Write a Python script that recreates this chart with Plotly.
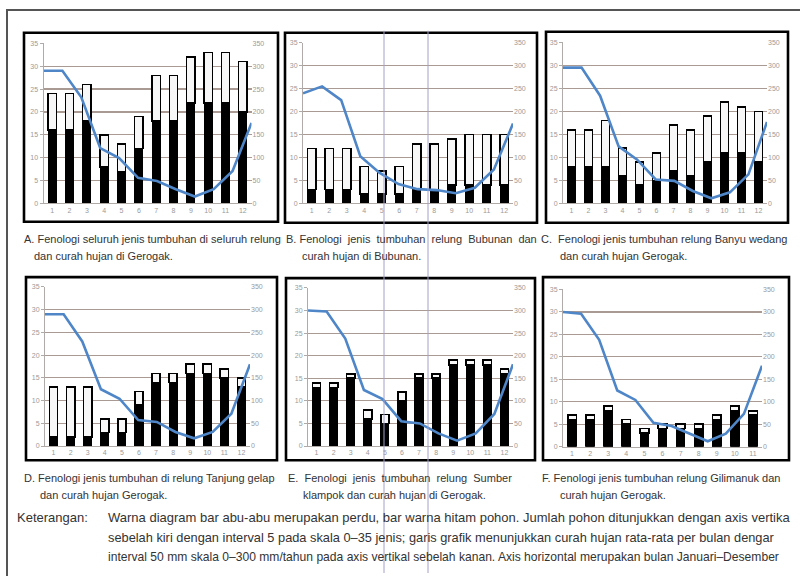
import plotly.graph_objects as go

# ---------------- data ----------------
months12 = [1, 2, 3, 4, 5, 6, 7, 8, 9, 10, 11, 12]
months11 = [1, 2, 3, 4, 5, 6, 7, 8, 9, 10, 11]

A_pohon = [16, 16, 18, 8, 7, 12, 18, 18, 22, 22, 22, 20]
A_perdu = [8, 8, 8, 7, 6, 7, 10, 10, 10, 11, 11, 11]
A_rain = [290, 290, 232, 121, 99, 56, 49, 31, 15, 31, 71, 176]

B_pohon = [3, 3, 3, 2, 2, 2, 3, 3, 4, 4, 4, 4]
B_perdu = [9, 9, 9, 6, 5, 6, 10, 10, 10, 11, 11, 11]
B_rain = [240, 255, 225, 103, 67, 42, 31, 29, 22, 34, 74, 174]

C_pohon = [8, 8, 8, 6, 4, 5, 7, 6, 9, 11, 11, 9]
C_perdu = [8, 8, 10, 6, 5, 6, 10, 10, 10, 11, 10, 11]
C_rain = [295, 295, 234, 124, 95, 52, 49, 27, 11, 24, 63, 177]

D_pohon = [2, 2, 2, 3, 3, 9, 14, 14, 16, 16, 15, 13]
D_perdu = [11, 11, 11, 3, 3, 3, 2, 2, 2, 2, 2, 2]
D_rain = [290, 290, 230, 125, 104, 57, 53, 31, 17, 31, 71, 180]

E_pohon = [13, 13, 15, 6, 5, 10, 15, 15, 18, 18, 18, 16]
E_perdu = [1, 1, 1, 2, 2, 2, 1, 1, 1, 1, 1, 1]
E_rain = [300, 298, 238, 124, 104, 55, 50, 28, 12, 28, 71, 181]

F_pohon = [6, 6, 8, 5, 3, 4, 4, 4, 6, 8, 7]
F_perdu = [1, 1, 1, 1, 1, 1, 1, 1, 1, 1, 1]
F_rain = [300, 296, 238, 125, 104, 53, 46, 29, 12, 29, 73, 180]

left_ticks = [0, 5, 10, 15, 20, 25, 30, 35]
right_ticks = [0, 50, 100, 150, 200, 250, 300, 350]

captions = [
    ("A. Fenologi seluruh jenis tumbuhan di seluruh relung", "dan curah hujan di Gerogak."),
    ("B. Fenologi  jenis  tumbuhan  relung  Bubunan  dan", "curah hujan di Bubunan."),
    ("C.  Fenologi jenis tumbuhan relung Banyu wedang", "dan curah hujan Gerogak."),
    ("D. Fenologi jenis tumbuhan di relung Tanjung gelap", "dan curah hujan Gerogak."),
    ("E.  Fenologi  jenis  tumbuhan  relung  Sumber", "klampok dan curah hujan di Gerogak."),
    ("F. Fenologi jenis tumbuhan relung Gilimanuk dan", "curah hujan Gerogak."),
]
ket_label = "Keterangan:"
ket_lines = [
    "Warna diagram bar abu-abu merupakan perdu, bar warna hitam pohon. Jumlah pohon ditunjukkan dengan axis vertika",
    "sebelah kiri dengan interval 5 pada skala 0–35 jenis; garis grafik menunjukkan curah hujan rata-rata per bulan dengar",
    "interval 50 mm skala 0–300 mm/tahun pada axis vertikal sebelah kanan. Axis horizontal merupakan bulan Januari–Desember",
]

panels = [
    (months12, A_pohon, A_perdu, A_rain),
    (months12, B_pohon, B_perdu, B_rain),
    (months12, C_pohon, C_perdu, C_rain),
    (months12, D_pohon, D_perdu, D_rain),
    (months12, E_pohon, E_perdu, E_rain),
    (months11, F_pohon, F_perdu, F_rain),
]

# ---------------- layout geometry (pixels) ----------------
W, H = 800, 576
plot_px = [
    (43.5, 40.5, 251.5, 202.5),
    (303, 40, 513, 202.5),
    (563, 39.5, 767, 202.5),
    (45, 286.7, 250, 447.7),
    (308, 287.7, 513, 447.7),
    (563, 289.3, 762, 448.3),
]
box_px = [
    (24, 30, 278, 221),
    (285, 30, 537, 222),
    (546, 29, 788, 222),
    (26, 277, 277, 462),
    (286, 278, 535, 462),
    (543, 277, 789, 462),
]
cap_px = [
    ((22, 238), (32, 256)),
    ((284, 238), (300, 256)),
    ((539, 238), (558, 256)),
    ((22, 480), (38, 497)),
    ((286, 480), (301, 497)),
    ((540, 480), (558, 497)),
]


def fx(x):
    return x / W


def fy(y):
    return 1 - y / H


GRID = "#a99a93"
AXC = "#b0aaa8"
TICKF = dict(family="Liberation Sans, sans-serif", size=7, color="#9a9a9a")
BLUE = "#4f86c8"
CAPF = dict(family="Liberation Sans, sans-serif", size=11, color="#333333")

fig = go.Figure()
layout = {}
shapes = []
annotations = []

for i, (cats, pohon, perdu, rain) in enumerate(panels):
    k = i + 1
    xa = "x" if k == 1 else f"x{k}"
    ya = "y" if k == 1 else f"y{k}"
    xl = f"x{k + 6}"
    yr = f"y{k + 6}"
    xkey = "xaxis" if k == 1 else f"xaxis{k}"
    ykey = "yaxis" if k == 1 else f"yaxis{k}"

    fig.add_trace(go.Bar(x=cats, y=pohon, xaxis=xa, yaxis=ya, width=0.48,
                         marker=dict(color="black", line=dict(color="black", width=1)),
                         showlegend=False))
    fig.add_trace(go.Bar(x=cats, y=perdu, xaxis=xa, yaxis=ya, width=0.48,
                         marker=dict(color="#f7f7f7", line=dict(color="black", width=1.6)),
                         showlegend=False))
    fig.add_trace(go.Scatter(x=months12, y=rain, xaxis=xl, yaxis=yr, mode="lines",
                             line=dict(color=BLUE, width=2.6), showlegend=False))

    x0, y0, x1, y1 = plot_px[i]
    n = len(cats)
    layout[xkey] = dict(domain=[fx(x0), fx(x1)], anchor=ya, range=[0.5, n + 0.5],
                        tickvals=cats, ticktext=[str(c) for c in cats], tickfont=TICKF,
                        showline=True, linecolor=AXC, linewidth=1, showgrid=False,
                        zeroline=False, ticks="", fixedrange=True)
    layout[ykey] = dict(domain=[fy(y1), fy(y0)], anchor=xa, range=[0, 35.05],
                        tickvals=left_ticks, tickfont=TICKF, showgrid=True,
                        gridcolor=GRID, gridwidth=1.2, zeroline=False, showline=True,
                        linecolor=AXC, linewidth=1, ticks="outside", ticklen=3,
                        tickcolor=AXC)
    layout[f"yaxis{k + 6}"] = dict(overlaying=ya, anchor=xa, side="right",
                                   range=[0, 350.5], tickvals=right_ticks,
                                   tickfont=TICKF, showgrid=False, zeroline=False,
                                   showline=False, ticks="")
    layout[f"xaxis{k + 6}"] = dict(overlaying=xa, anchor=yr, range=[1, 12],
                                   visible=False)

    bx0, by0, bx1, by1 = box_px[i]
    shapes.append(dict(type="rect", xref="paper", yref="paper",
                       x0=fx(bx0), y0=fy(by1), x1=fx(bx1), y1=fy(by0),
                       line=dict(color="black", width=2.6)))

    (l1x, l1y), (l2x, l2y) = cap_px[i]
    annotations.append(dict(x=fx(l1x), y=fy(l1y), xref="paper", yref="paper",
                            text=captions[i][0], showarrow=False, xanchor="left",
                            yanchor="middle", font=CAPF))
    annotations.append(dict(x=fx(l2x), y=fy(l2y), xref="paper", yref="paper",
                            text=captions[i][1], showarrow=False, xanchor="left",
                            yanchor="middle", font=CAPF))

KETF = dict(family="Liberation Sans, sans-serif", size=13, color="#333333")
ket_sizes = [13, 12.8, 12.1]
annotations.append(dict(x=fx(15), y=fy(520), xref="paper", yref="paper", text=ket_label,
                        showarrow=False, xanchor="left", yanchor="middle", font=KETF))
for j, yy in enumerate([520, 540, 560]):
    annotations.append(dict(x=fx(106), y=fy(yy), xref="paper", yref="paper",
                            text=ket_lines[j], showarrow=False, xanchor="left",
                            yanchor="middle", font=dict(KETF, size=ket_sizes[j])))

# outer page frame
shapes.append(dict(type="rect", xref="paper", yref="paper", x0=fx(7), y0=fy(590),
                   x1=fx(810), y1=fy(7), line=dict(color="#555555", width=2)))
# scan fold lines
for xx in (384, 428):
    shapes.append(dict(type="line", xref="paper", yref="paper", x0=fx(xx), x1=fx(xx),
                       y0=fy(28), y1=fy(576), line=dict(color="#a49fcc", width=1)))

fig.update_layout(width=W, height=H, margin=dict(l=0, r=0, t=0, b=0),
                  paper_bgcolor="white", plot_bgcolor="rgba(0,0,0,0)",
                  barmode="stack", showlegend=False, hovermode=False,
                  shapes=shapes, annotations=annotations, **layout)

fig.write_html("out.html", config={"displayModeBar": False, "staticPlot": True},
               post_script="document.body.style.margin='0px';document.body.style.overflow='hidden';")
